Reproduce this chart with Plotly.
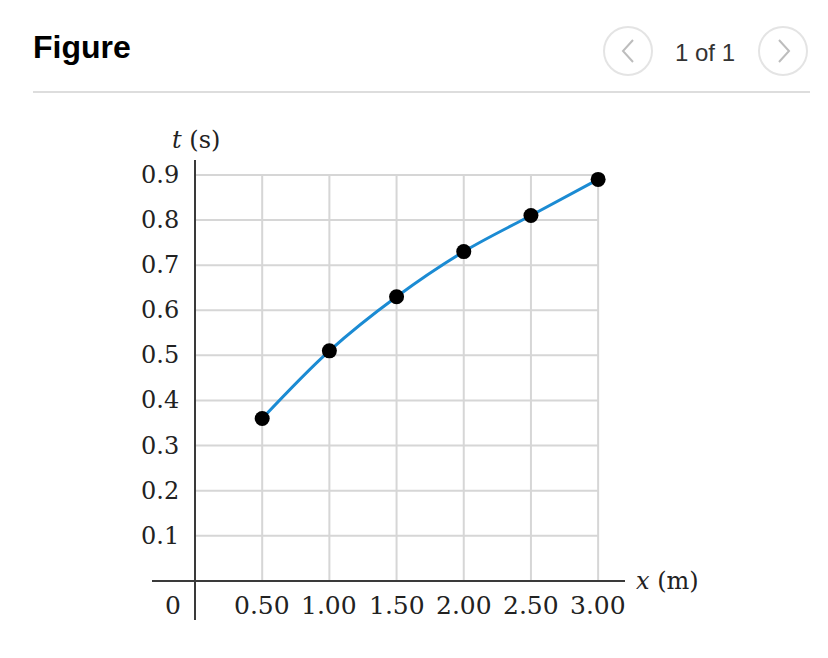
import plotly.graph_objects as go

# data
x_m = [0.50, 1.00, 1.50, 2.00, 2.50, 3.00]
t_s = [0.36, 0.51, 0.63, 0.73, 0.81, 0.89]
x_ticks = [0.5, 1.0, 1.5, 2.0, 2.5, 3.0]
x_labels = ["0.50", "1.00", "1.50", "2.00", "2.50", "3.00"]
y_ticks = [0.1, 0.2, 0.3, 0.4, 0.5, 0.6, 0.7, 0.8, 0.9]
y_labels = ["0.1", "0.2", "0.3", "0.4", "0.5", "0.6", "0.7", "0.8", "0.9"]

# page body has an 8px margin, so the figure starts at (8, 8)
OFF = 8
W, H = 820, 650
L, R, T, B = 144, 203, 152, 38
pw, ph = W - L - R, H - T - B


def px(x):
    # page x pixel -> paper coordinate
    return (x - OFF - L) / pw


def py(y):
    # page y pixel -> paper coordinate
    return (H - B - (y - OFF)) / ph


SERIF = "DejaVu Serif"
SANS = "Liberation Sans"
GRID = "#d6d6d6"
AXIS = "#3a3a3a"
TXT = "#222222"

fig = go.Figure()
fig.add_trace(go.Scatter(x=x_m, y=t_s, mode="lines", line=dict(color="#1b8bd3", width=3, shape="spline"),
                         hoverinfo="skip"))
fig.add_trace(go.Scatter(x=x_m, y=t_s, mode="markers", marker=dict(color="black", size=15)))

shapes = []
for xv in x_ticks:
    shapes.append(dict(type="line", xref="x", yref="y", x0=xv, x1=xv, y0=0, y1=max(y_ticks),
                       line=dict(color=GRID, width=2), layer="below"))
for yv in y_ticks:
    shapes.append(dict(type="line", xref="x", yref="y", x0=0, x1=max(x_ticks), y0=yv, y1=yv,
                       line=dict(color=GRID, width=2), layer="below"))

# header: rule and page buttons
shapes.append(dict(type="line", xref="paper", yref="paper", x0=px(33), x1=px(810), y0=py(92), y1=py(92),
                   line=dict(color="#dddddd", width=2)))
for cx in [628, 783]:
    shapes.append(dict(type="circle", xref="paper", yref="paper", x0=px(cx - 24), x1=px(cx + 24),
                       y0=py(51 - 24), y1=py(51 + 24), line=dict(color="#e4e4e4", width=2)))
shapes.append(dict(type="path", xref="paper", yref="paper",
                   path=f"M {px(633)} {py(40)} L {px(623)} {py(51)} L {px(633)} {py(62)}",
                   line=dict(color="#bdbdbd", width=2)))
shapes.append(dict(type="path", xref="paper", yref="paper",
                   path=f"M {px(779)} {py(40)} L {px(789)} {py(51)} L {px(779)} {py(62)}",
                   line=dict(color="#bdbdbd", width=2)))

ann = []
for yv, lab in zip(y_ticks, y_labels):
    ann.append(dict(x=0, y=yv, xref="x", yref="y", text=lab, showarrow=False, xanchor="right",
                    yanchor="middle", xshift=-14, font=dict(family=SERIF, size=24, color=TXT)))
for xv, lab in zip(x_ticks, x_labels):
    ann.append(dict(x=xv, y=0, xref="x", yref="y", text=lab, showarrow=False, xanchor="center",
                    yanchor="middle", yshift=-25, font=dict(family=SERIF, size=25, color=TXT)))
ann.append(dict(x=0, y=0, xref="x", yref="y", text="0", showarrow=False, xanchor="center", yanchor="middle",
                yshift=-25, xshift=-22, font=dict(family=SERIF, size=25, color=TXT)))
ann.append(dict(x=px(196), y=py(140), xref="paper", yref="paper", text="<i>t</i> (s)", showarrow=False,
                xanchor="center", yanchor="middle", font=dict(family=SERIF, size=24, color=TXT)))
ann.append(dict(x=px(634), y=py(581), xref="paper", yref="paper", text="<i>x</i> (m)", showarrow=False,
                xanchor="left", yanchor="middle", font=dict(family=SERIF, size=24, color=TXT)))
ann.append(dict(x=px(31), y=py(47), xref="paper", yref="paper", text="<b>Figure</b>", showarrow=False,
                xanchor="left", yanchor="middle", font=dict(family=SANS, size=32, color="black")))
ann.append(dict(x=px(705), y=py(53), xref="paper", yref="paper", text="1 of 1", showarrow=False,
                xanchor="center", yanchor="middle", font=dict(family=SANS, size=24, color="#333")))

fig.update_layout(
    width=W, height=H,
    margin=dict(l=L, r=R, t=T, b=B),
    plot_bgcolor="white", paper_bgcolor="white",
    showlegend=False,
    shapes=shapes, annotations=ann,
    xaxis=dict(range=[-0.32, 3.20], showgrid=False, showticklabels=False, zeroline=True,
               zerolinecolor=AXIS, zerolinewidth=2),
    yaxis=dict(range=[-0.0865, 0.933], showgrid=False, showticklabels=False, zeroline=True,
               zerolinecolor=AXIS, zerolinewidth=2),
)

fig.write_html("out.html")
